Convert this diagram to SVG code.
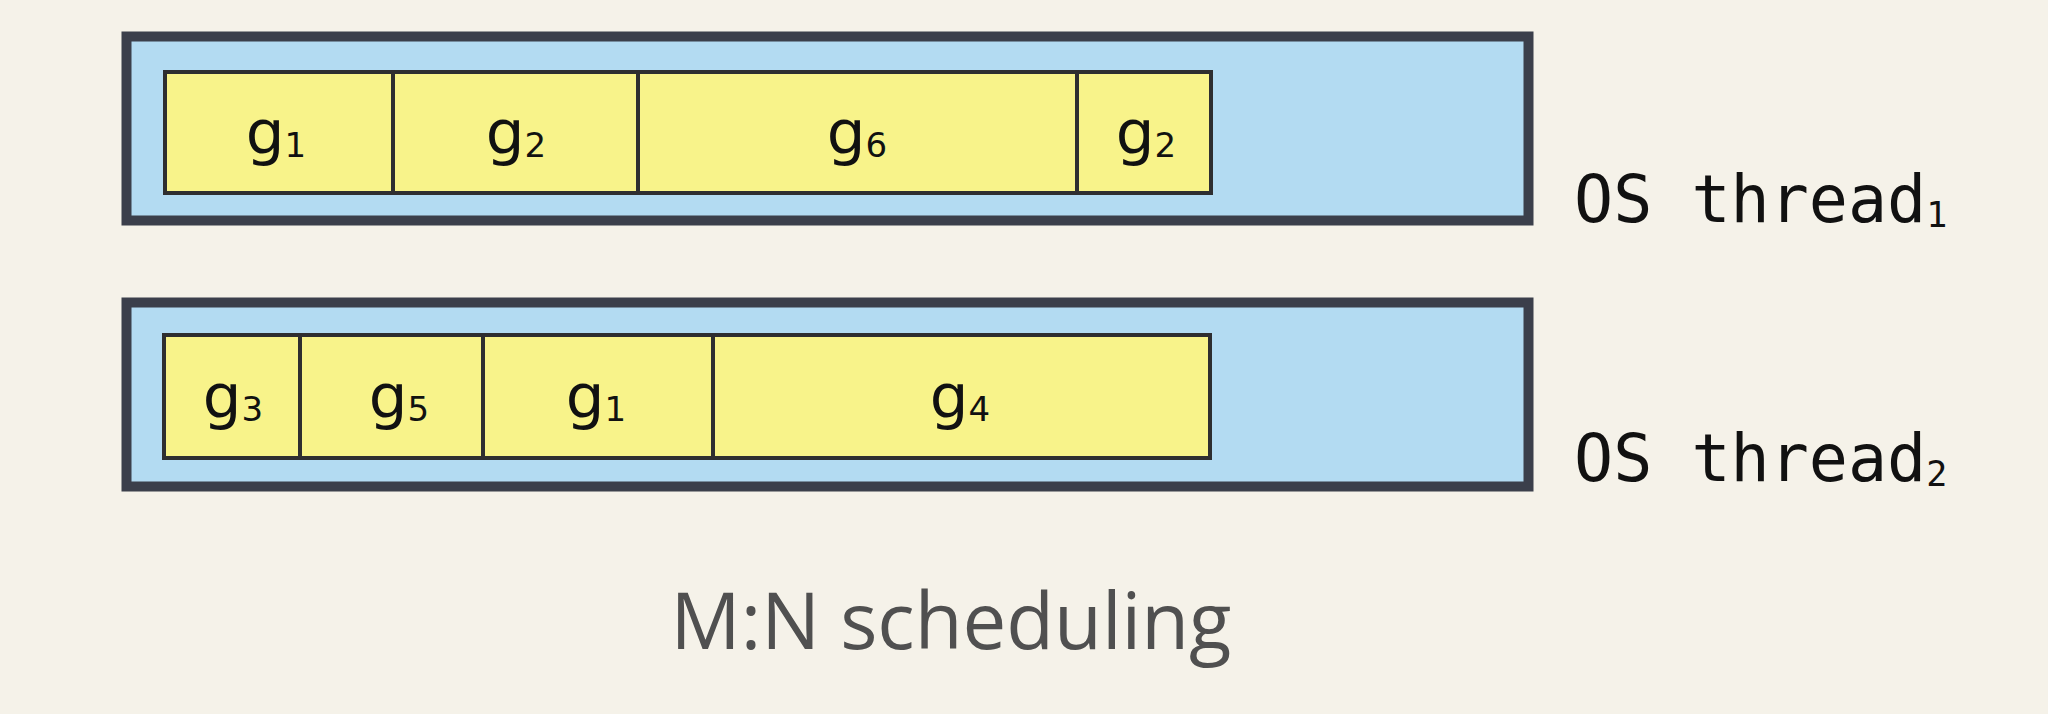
<svg xmlns="http://www.w3.org/2000/svg" width="2048" height="714" viewBox="0 0 2048 714">
<style>
.bg{fill:#f5f2e9}
.thread{fill:#b3dbf2;stroke:#3b3f4b;stroke-width:10}
.cell{fill:#f8f38a;stroke:#2e2e30;stroke-width:4}
.g{font-family:"DejaVu Sans",Verdana,sans-serif;font-size:61px;fill:#111;text-anchor:middle}
.sub{font-size:34px}
.os{font-family:"DejaVu Sans Mono",monospace;font-size:65px;fill:#111}
.ossub{font-size:35px}
.title{font-family:"Open Sans",Lato,sans-serif;font-size:78px;fill:#505050;text-anchor:middle}
</style>
<rect class="bg" x="0" y="0" width="2048" height="714"/>
<g id="thread1">
<rect class="thread" x="126.5" y="36.5" width="1402" height="184"/>
<text class="os" x="1574" y="222">OS thread<tspan class="ossub" dy="5">1</tspan></text>
</g>
<g id="thread2">
<rect class="thread" x="126.5" y="302.5" width="1402" height="184"/>
<text class="os" x="1574" y="481">OS thread<tspan class="ossub" dy="5">2</tspan></text>
</g>
<g id="t1-g1"><rect class="cell" x="165" y="72" width="228" height="121"/><text class="g" x="276" y="153">g<tspan class="sub" dy="4">1</tspan></text></g>
<g id="t1-g2"><rect class="cell" x="393" y="72" width="245" height="121"/><text class="g" x="516" y="153">g<tspan class="sub" dy="4">2</tspan></text></g>
<g id="t1-g6"><rect class="cell" x="638" y="72" width="439" height="121"/><text class="g" x="857" y="153">g<tspan class="sub" dy="4">6</tspan></text></g>
<g id="t1-g2b"><rect class="cell" x="1077" y="72" width="134" height="121"/><text class="g" x="1146" y="153">g<tspan class="sub" dy="4">2</tspan></text></g>
<g id="t2-g3"><rect class="cell" x="164" y="335" width="136" height="123"/><text class="g" x="233" y="417">g<tspan class="sub" dy="4">3</tspan></text></g>
<g id="t2-g5"><rect class="cell" x="300" y="335" width="183" height="123"/><text class="g" x="399" y="417">g<tspan class="sub" dy="4">5</tspan></text></g>
<g id="t2-g1"><rect class="cell" x="483" y="335" width="230" height="123"/><text class="g" x="596" y="417">g<tspan class="sub" dy="4">1</tspan></text></g>
<g id="t2-g4"><rect class="cell" x="713" y="335" width="497" height="123"/><text class="g" x="960" y="417">g<tspan class="sub" dy="4">4</tspan></text></g>
<g id="connectors"></g>
<g id="caption"><text class="title" x="951" y="649">M:N scheduling</text></g>
</svg>
